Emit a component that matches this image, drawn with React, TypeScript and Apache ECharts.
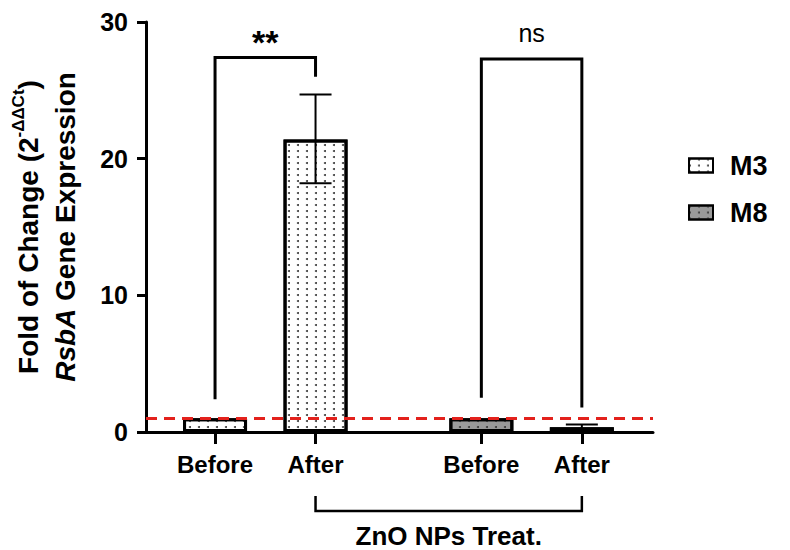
import React, { useEffect, useRef } from "react";
import * as echarts from "echarts";

// ---- data ----
const categories = ["Before", "After", "Before", "After"];
const xPositions = [0, 1, 2.65, 3.65];
const seriesNames = ["M3", "M8"];
const m3Values = [1.0, 21.4];
const m8Values = [1.0, 0.35];
// error bars: [x, low, high]
const errorBars = [
  [1, 18.2, 24.7],
  [3.65, 0.2, 0.55],
];
const yTicks = [0, 10, 20, 30];
const refLineValue = 1;
// significance brackets: [xFrom, xTo, yTop, yLeftEnd, yRightEnd]
const sigBrackets = [
  [0, 1, 27.4, 2.4, 26.0],
  [2.65, 3.65, 27.3, 2.5, 1.8],
];
const sigLabels = ["**", "ns"];
const groupBracket = [[1, 3.65]];
const groupLabel = "ZnO NPs Treat.";

const FONT = "Liberation Sans, Arial, Helvetica, sans-serif";

const dotDecal = {
  symbol: "circle",
  symbolSize: 1,
  dashArrayX: [2, 6.5],
  dashArrayY: [2, 4],
  color: "#3a3a3a",
};

export default function App() {
  const ref = useRef<HTMLDivElement>(null);
  useEffect(() => {
    if (!ref.current) return;
    const chart = echarts.init(ref.current, null, { renderer: "svg" });
    const option: any = {
      animation: false,
      backgroundColor: "#fff",
      grid: { left: 146, right: 137, top: 22, bottom: 118 },
      legend: {
        data: seriesNames,
        orient: "vertical",
        left: 688,
        top: 152,
        padding: 0,
        itemWidth: 24,
        itemHeight: 14,
        itemGap: 20,
        icon: "rect",
        itemStyle: { borderColor: "#000", borderWidth: 2 },
        textStyle: {
          fontSize: 27,
          fontWeight: "bold",
          color: "#000",
          fontFamily: FONT,
          padding: [0, 0, 0, 12],
        },
      },
      xAxis: {
        type: "value",
        min: -0.687,
        max: 4.358,
        splitLine: { show: false },
        axisLine: { show: true, onZero: true, lineStyle: { color: "#000", width: 3 } },
        axisTick: {
          show: true,
          customValues: xPositions,
          length: 12,
          lineStyle: { color: "#000", width: 3 },
        },
        axisLabel: {
          show: true,
          customValues: xPositions,
          margin: 20,
          formatter: (v: number) => {
            const i = xPositions.findIndex((p) => Math.abs(p - v) < 1e-6);
            return i >= 0 ? categories[i] : "";
          },
          fontSize: 24,
          fontWeight: "bold",
          color: "#000",
          fontFamily: FONT,
        },
      },
      yAxis: {
        type: "value",
        min: yTicks[0],
        max: yTicks[yTicks.length - 1],
        interval: 10,
        splitLine: { show: false },
        axisLine: { show: true, onZero: false, lineStyle: { color: "#000", width: 3 } },
        axisTick: { show: true, length: 9, lineStyle: { color: "#000", width: 3 } },
        axisLabel: {
          fontSize: 25,
          fontWeight: "bold",
          color: "#000",
          fontFamily: FONT,
          margin: 18,
        },
        name:
          "{n|Fold of Change (2}{sup|-ΔΔCt}{n|)}\n{i|RsbA}{n| Gene Expression}",
        nameLocation: "middle",
        nameGap: 62,
        nameRotate: 90,
        nameTextStyle: {
          fontFamily: FONT,
          color: "#000",
          lineHeight: 37,
          align: "center",
          rich: {
            n: { fontSize: 28, fontWeight: "bold", color: "#000", fontFamily: FONT, lineHeight: 37 },
            i: {
              fontSize: 28,
              fontWeight: "bold",
              fontStyle: "italic",
              color: "#000",
              fontFamily: FONT,
              lineHeight: 37,
            },
            sup: {
              fontSize: 17,
              fontWeight: "bold",
              color: "#000",
              fontFamily: FONT,
              verticalAlign: "top",
              lineHeight: 37,
              padding: [0, 0, 12, 0],
            },
          },
        },
      },
      series: [
        {
          name: seriesNames[0],
          type: "bar",
          barWidth: 64,
          barGap: "-100%",
          data: m3Values.map((v, i) => [xPositions[i], v]),
          itemStyle: { color: "#ffffff", borderColor: "#000", borderWidth: 3, decal: dotDecal },
          markLine: {
            silent: true,
            symbol: "none",
            label: { show: false },
            lineStyle: { color: "#e3211c", width: 3, type: [11, 7] },
            data: [{ yAxis: refLineValue }],
          },
          z: 2,
        },
        {
          name: seriesNames[1],
          type: "bar",
          barWidth: 64,
          barGap: "-100%",
          data: m8Values.map((v, i) => [xPositions[i + 2], v]),
          itemStyle: { color: "#9a9a9a", borderColor: "#000", borderWidth: 3, decal: dotDecal },
          z: 2,
        },
        {
          type: "custom",
          name: "err",
          silent: true,
          clip: false,
          z: 5,
          data: errorBars,
          renderItem: (params: any, api: any) => {
            const x = api.value(0);
            const lo = api.coord([x, api.value(1)]);
            const hi = api.coord([x, api.value(2)]);
            const hw = 16;
            return {
              type: "group",
              children: [
                { type: "line", shape: { x1: lo[0], y1: lo[1], x2: hi[0], y2: hi[1] }, style: { stroke: "#000", lineWidth: 2 } },
                { type: "line", shape: { x1: hi[0] - hw, y1: hi[1], x2: hi[0] + hw, y2: hi[1] }, style: { stroke: "#000", lineWidth: 2 } },
                { type: "line", shape: { x1: lo[0] - hw, y1: lo[1], x2: lo[0] + hw, y2: lo[1] }, style: { stroke: "#000", lineWidth: 2 } },
              ],
            };
          },
        },
        {
          type: "custom",
          name: "sig",
          silent: true,
          clip: false,
          z: 6,
          data: sigBrackets,
          renderItem: (params: any, api: any) => {
            const x1 = api.value(0);
            const x2 = api.value(1);
            const top = api.value(2);
            const l = api.coord([x1, api.value(3)]);
            const p1 = api.coord([x1, top]);
            const p2 = api.coord([x2, top]);
            const r = api.coord([x2, api.value(4)]);
            const label = sigLabels[params.dataIndex];
            const isStar = label.indexOf("*") >= 0;
            return {
              type: "group",
              children: [
                {
                  type: "polyline",
                  shape: { points: [l, p1, p2, r] },
                  style: { stroke: "#000", lineWidth: 3, fill: null },
                },
                {
                  type: "text",
                  x: (p1[0] + p2[0]) / 2,
                  y: isStar ? p1[1] + 1 : p1[1] - 13,
                  style: {
                    text: label,
                    align: "center",
                    verticalAlign: "bottom",
                    fontSize: isStar ? 34 : 25,
                    fontWeight: isStar ? "bold" : "normal",
                    fontFamily: FONT,
                    fill: "#000",
                  },
                },
              ],
            };
          },
        },
        {
          type: "custom",
          name: "group",
          silent: true,
          clip: false,
          z: 6,
          data: groupBracket,
          renderItem: (params: any, api: any) => {
            const a = api.coord([api.value(0), 0]);
            const b = api.coord([api.value(1), 0]);
            const y1 = a[1] + 64;
            const y2 = a[1] + 79;
            return {
              type: "group",
              children: [
                {
                  type: "polyline",
                  shape: { points: [[a[0], y1], [a[0], y2], [b[0], y2], [b[0], y1]] },
                  style: { stroke: "#000", lineWidth: 2.5, fill: null },
                },
                {
                  type: "text",
                  x: (a[0] + b[0]) / 2,
                  y: a[1] + 104,
                  style: {
                    text: groupLabel,
                    align: "center",
                    verticalAlign: "middle",
                    fontSize: 26,
                    fontWeight: "bold",
                    fontFamily: FONT,
                    fill: "#000",
                  },
                },
              ],
            };
          },
        },
      ],
    };
    chart.setOption(option);
    return () => chart.dispose();
  }, []);
  return <div ref={ref} style={{ width: 790, height: 550, position: "absolute", left: 0, top: 0 }} />;
}
